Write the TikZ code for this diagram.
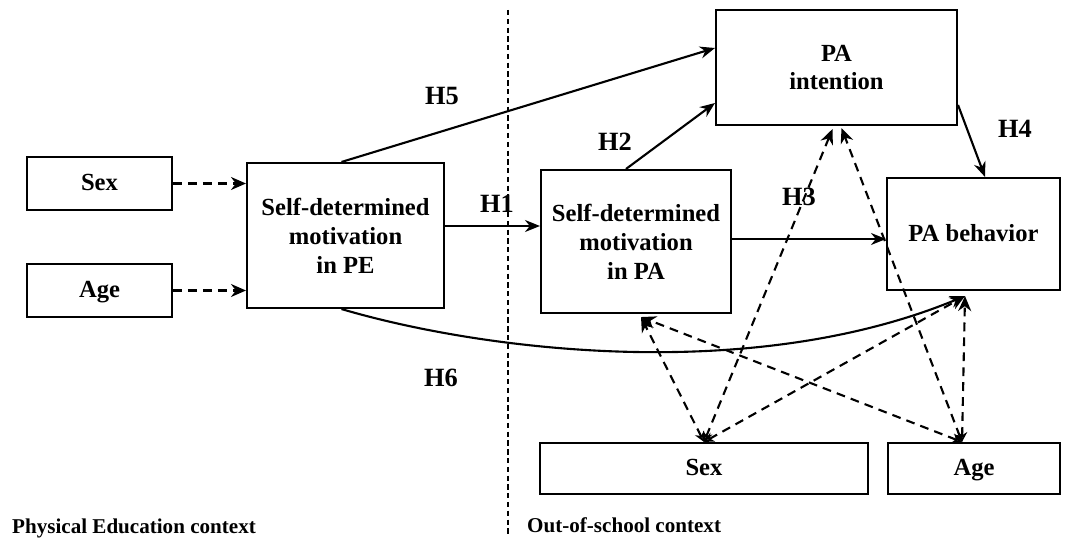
\documentclass[tikz,border=0pt]{standalone}
\usepackage{fontspec}
\setmainfont{Liberation Serif}
\usetikzlibrary{arrows.meta,calc}
\tikzset{
  box/.style 2 args={
    rectangle,
    draw=black,
    line width=1.2pt,
    minimum width=#1,
    minimum height=#2,
    align=center,
    inner sep=0pt,
    font=\fontsize{14}{16.5}\selectfont\bfseries
  },
  oneline/.style={text height=2ex,text depth=0.2ex},
  hlabel/.style={font=\fontsize{15}{17}\selectfont\bfseries},
  ctxlabel/.style={anchor=west,font=\fontsize{12}{14}\selectfont\bfseries},
  path/.style={line width=1.2pt,-{Stealth[length=3mm,width=2.4mm]}},
  cov/.style={line width=1.2pt,dash pattern=on 5pt off 3.5pt,
    {Stealth[length=2mm,width=2mm,open]}-{Stealth[length=3mm,width=2.6mm]}},
  ctrl/.style={line width=1.2pt,dash pattern=on 5pt off 3.5pt,-{Stealth[length=3mm,width=2.6mm]}}
}

\begin{document}
\begin{tikzpicture}[x=0.02cm,y=-0.02cm]
\useasboundingbox (0,0) rectangle (1067,537);

% context split
\draw[line width=0.8pt,dash pattern=on 3pt off 2pt] (508,10) -- (508,537);

% boxes
\node[box={2.9cm}{1.06cm},oneline]  (sexL)   at (99.5,183.5) {Sex};
\node[box={2.9cm}{1.06cm},oneline]  (ageL)   at (99.5,290.5) {Age};
\node[box={3.94cm}{2.9cm}]  (sdmPE)  at (345.5,235.5) {Self-determined\\motivation\\in PE};
\node[box={3.8cm}{2.86cm}]  (sdmPA)  at (636,241.5) {Self-determined\\motivation\\in PA};
\node[box={4.82cm}{2.3cm}]  (intent) at (836.5,67.5) {PA\\intention};
\node[box={3.46cm}{2.24cm},oneline] (behav)  at (973.5,234) {PA behavior};
\node[box={6.56cm}{1.02cm},oneline] (sexB)   at (704,468.5) {Sex};
\node[box={3.44cm}{1.02cm},oneline] (ageB)   at (974,468.5) {Age};

% hypothesis labels
\node[hlabel] (h5) at (442,96)  {H5};
\node[hlabel] (h2) at (615,142) {H2};
\node[hlabel] (h1) at (497,204) {H1};
\node[hlabel] (h3) at (799,197) {H3};
\node[hlabel] (h4) at (1015,129) {H4};
\node[hlabel] (h6) at (441,378) {H6};

% context labels
\node[ctxlabel] (pec) at (6,528) {Physical Education context};
\node[ctxlabel] (osc) at (521,525) {Out-of-school context};

% anchor points
\coordinate (paIn)  at ([xshift=0.1cm,yshift=-0.06cm]sdmPA.south);
\coordinate (intS)  at ([xshift=-0.08cm,yshift=-0.06cm]intent.south);
\coordinate (intA)  at ([xshift=0.1cm,yshift=-0.04cm]intent.south);
\coordinate (behIn) at ([xshift=-0.17cm,yshift=-0.1cm]behav.south);
\coordinate (sexHub) at (sexB.north);
\coordinate (ageHub) at ([xshift=-0.24cm]ageB.north);

% control paths
\draw[ctrl] (sexL.east) -- (sexL.east -| sdmPE.west);
\draw[ctrl] (ageL.east) -- (ageL.east -| sdmPE.west);

% hypothesised paths
\draw[path] ([yshift=0.19cm]sdmPE.east) -- ([yshift=0.19cm]sdmPE.east -| sdmPA.west);
\draw[path] ([xshift=-0.08cm]sdmPE.north) -- ([yshift=0.39cm]intent.west);
\draw[path] ([xshift=-0.2cm]sdmPA.north) -- ([yshift=-0.71cm]intent.west);
\draw[path] ([yshift=-0.75cm]intent.east) -- ([xshift=0.23cm]behav.north);
\draw[path] ([yshift=0.05cm]sdmPA.east) -- ([yshift=0.05cm]sdmPA.east -| behav.west);
\draw[path] ([xshift=-0.08cm]sdmPE.south) .. controls (480,350) and (750,385) .. (behIn);

% covariates
\draw[cov] (sexHub) -- (paIn);
\draw[cov] (sexHub) -- (intS);
\draw[cov] (sexHub) -- (behIn);
\draw[cov] (ageHub) -- (paIn);
\draw[cov] (ageHub) -- (intA);
\draw[cov] (ageHub) -- (behIn);
\end{tikzpicture}
\end{document}
